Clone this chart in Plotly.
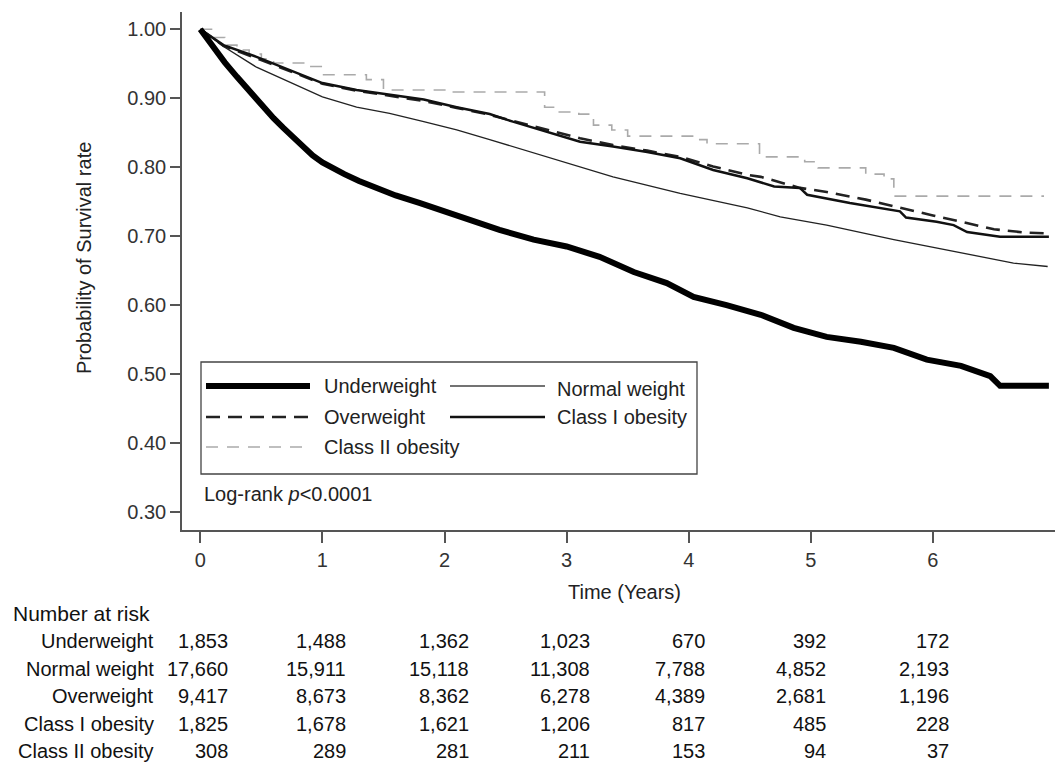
import plotly.graph_objects as go

# ---------------- data ----------------
groups = ["Underweight", "Normal weight", "Overweight", "Class I obesity", "Class II obesity"]

t_under = [0, 0.1, 0.2, 0.3, 0.46, 0.6, 0.68, 0.76, 0.84, 0.92, 1.0, 1.08, 1.18, 1.3, 1.45,
           1.6, 1.8, 2.0, 2.2, 2.45, 2.73, 3.0, 3.27, 3.55, 3.82, 4.04, 4.31, 4.59, 4.86, 5.13,
           5.41, 5.68, 5.95, 6.23, 6.47, 6.55, 6.95]
s_under = [1.0, 0.975, 0.952, 0.931, 0.898, 0.871, 0.857, 0.843, 0.830, 0.817, 0.807, 0.799,
           0.790, 0.780, 0.769, 0.759, 0.748, 0.736, 0.722, 0.709, 0.695, 0.685, 0.670, 0.648,
           0.632, 0.612, 0.600, 0.586, 0.567, 0.554, 0.547, 0.538, 0.521, 0.512, 0.497, 0.483,
           0.483]

t_normal = [0, 0.19, 0.46, 0.73, 1.0, 1.28, 1.55, 1.83, 2.1, 2.37, 2.84, 3.38, 3.93, 4.48,
            4.75, 5.13, 5.68, 6.23, 6.66, 6.94]
s_normal = [1.0, 0.975, 0.945, 0.923, 0.902, 0.887, 0.878, 0.866, 0.854, 0.840, 0.815, 0.786,
            0.762, 0.741, 0.728, 0.716, 0.695, 0.676, 0.661, 0.656]

t_over = [0, 0.19, 0.46, 0.73, 1.0, 1.28, 1.55, 1.83, 2.1, 2.37, 2.56, 2.84, 3.11, 3.38, 3.66,
          3.93, 4.2, 4.48, 4.59, 4.91, 5.13, 5.45, 5.68, 6.0, 6.23, 6.5, 6.77, 6.95]
s_over = [1.0, 0.976, 0.958, 0.940, 0.921, 0.911, 0.904, 0.896, 0.886, 0.876, 0.867, 0.854,
          0.842, 0.832, 0.824, 0.815, 0.801, 0.789, 0.786, 0.770, 0.764, 0.753, 0.743, 0.730,
          0.721, 0.710, 0.705, 0.704]

t_class1 = [0, 0.19, 0.46, 0.73, 1.0, 1.28, 1.55, 1.83, 2.1, 2.37, 2.56, 2.84, 3.11, 3.38,
            3.66, 3.93, 4.2, 4.48, 4.70, 4.91, 4.97, 5.32, 5.73, 5.78, 6.03, 6.17, 6.28, 6.55, 6.95]
s_class1 = [1.0, 0.977, 0.960, 0.941, 0.922, 0.912, 0.905, 0.898, 0.887, 0.877, 0.866, 0.851,
            0.837, 0.830, 0.822, 0.813, 0.796, 0.784, 0.772, 0.770, 0.760, 0.748, 0.736, 0.727,
            0.721, 0.716, 0.706, 0.699, 0.699]

t_class2 = [0, 0.1, 0.2, 0.3, 0.4, 0.5, 0.6, 0.86, 1.0, 1.36, 1.5, 2.05, 2.82, 2.94, 3.1, 3.22,
            3.37, 3.5, 4.07, 4.15, 4.58, 4.95, 5.06, 5.45, 5.6, 5.68, 6.91]
s_class2 = [1.0, 0.988, 0.977, 0.970, 0.964, 0.957, 0.951, 0.946, 0.934, 0.927, 0.912, 0.909,
            0.887, 0.880, 0.877, 0.861, 0.854, 0.845, 0.840, 0.834, 0.815, 0.808, 0.799, 0.790,
            0.783, 0.758, 0.758]

risk_times = [0, 1, 2, 3, 4, 5, 6]
risk_under = ["1,853", "1,488", "1,362", "1,023", "670", "392", "172"]
risk_normal = ["17,660", "15,911", "15,118", "11,308", "7,788", "4,852", "2,193"]
risk_over = ["9,417", "8,673", "8,362", "6,278", "4,389", "2,681", "1,196"]
risk_class1 = ["1,825", "1,678", "1,621", "1,206", "817", "485", "228"]
risk_class2 = ["308", "289", "281", "211", "153", "94", "37"]

x_ticks = [0, 1, 2, 3, 4, 5, 6]
y_ticks = [0.30, 0.40, 0.50, 0.60, 0.70, 0.80, 0.90, 1.00]

# ---------------- layout helpers ----------------
W, H = 1061, 762
L, R, T, B = 182, 1055, 12, 530
FONT = "Liberation Sans, Arial, sans-serif"
FS = 20


def px_x(px):
    return (px - L) / (R - L)


def px_y(py):
    return (B - py) / (B - T)


fig = go.Figure()

fig.add_trace(go.Scatter(x=t_normal, y=s_normal, mode="lines", name=groups[1],
                         line=dict(color="#222222", width=1.3)))
fig.add_trace(go.Scatter(x=t_class2, y=s_class2, mode="lines", name=groups[4], line_shape="hv",
                         line=dict(color="#aaaaaa", width=1.6, dash="12px,9px")))
fig.add_trace(go.Scatter(x=t_over, y=s_over, mode="lines", name=groups[2],
                         line=dict(color="#222222", width=2.6, dash="14px,8px")))
fig.add_trace(go.Scatter(x=t_class1, y=s_class1, mode="lines", name=groups[3],
                         line=dict(color="#111111", width=2.5)))
fig.add_trace(go.Scatter(x=t_under, y=s_under, mode="lines", name=groups[0],
                         line=dict(color="#000000", width=6)))

shapes = []
annotations = []

# legend box
shapes.append(dict(type="rect", xref="paper", yref="paper",
                   x0=px_x(201), x1=px_x(697), y0=px_y(474), y1=px_y(362),
                   line=dict(color="#444444", width=1.3), fillcolor="white", layer="below"))

legend_items = [
    # (x0, x1, y, color, width, dash, label, text_x, text_y)
    (206, 310, 386, "#000000", 6, "solid", groups[0], 322, 386),
    (450, 545, 386, "#444444", 1.3, "solid", groups[1], 555, 389),
    (206, 310, 417, "#222222", 2.6, "14px,8px", groups[2], 322, 417),
    (450, 545, 417, "#111111", 2.5, "solid", groups[3], 555, 417),
    (206, 310, 447, "#aaaaaa", 1.6, "12px,9px", groups[4], 322, 447),
]
for x0, x1, y, c, w, d, lab, tx, ty in legend_items:
    shapes.append(dict(type="line", xref="paper", yref="paper",
                       x0=px_x(x0), x1=px_x(x1), y0=px_y(y), y1=px_y(y),
                       line=dict(color=c, width=w, dash=d)))
    annotations.append(dict(text=lab, xref="paper", yref="paper", x=px_x(tx), y=px_y(ty),
                            xanchor="left", yanchor="middle", showarrow=False,
                            font=dict(family=FONT, size=FS, color="#222222")))

annotations.append(dict(text="Log-rank <i>p</i>&lt;0.0001", xref="paper", yref="paper",
                        x=px_x(202), y=px_y(494), xanchor="left", yanchor="middle",
                        showarrow=False, font=dict(family=FONT, size=FS, color="#222222")))

# axis titles
annotations.append(dict(text="Probability of Survival rate", xref="paper", yref="paper",
                        x=px_x(84), y=px_y(258), textangle=-90, xanchor="center",
                        yanchor="middle", showarrow=False,
                        font=dict(family=FONT, size=FS, color="#222222")))
annotations.append(dict(text="Time (Years)", xref="paper", yref="paper",
                        x=px_x(624), y=px_y(592), xanchor="center", yanchor="middle",
                        showarrow=False, font=dict(family=FONT, size=FS, color="#222222")))

# number at risk table
annotations.append(dict(text="Number at risk", xref="paper", yref="paper",
                        x=px_x(11), y=px_y(613), xanchor="left", yanchor="middle",
                        showarrow=False, font=dict(family=FONT, size=21, color="#111111")))
risk_rows = [risk_under, risk_normal, risk_over, risk_class1, risk_class2]
row_y = [641, 668.5, 696, 723.5, 750.5]
col_shift = [30, 26, 26, 25, 18, 17, 18]
for gi, (lab, row, ry) in enumerate(zip(groups, risk_rows, row_y)):
    annotations.append(dict(text=lab, xref="paper", yref="paper", x=px_x(156), y=px_y(ry),
                            xanchor="right", yanchor="middle", showarrow=False,
                            font=dict(family=FONT, size=FS, color="#111111")))
    for t, val, sh in zip(risk_times, row, col_shift):
        annotations.append(dict(text=val, xref="x", yref="paper", x=t, xshift=sh,
                                y=px_y(ry), xanchor="right", yanchor="middle",
                                showarrow=False,
                                font=dict(family=FONT, size=FS, color="#111111")))

fig.update_layout(
    width=W, height=H,
    margin=dict(l=L, r=W - R, t=T, b=H - B, pad=0),
    paper_bgcolor="white", plot_bgcolor="white",
    showlegend=False,
    shapes=shapes, annotations=annotations,
    font=dict(family=FONT, size=FS, color="#333333"),
    xaxis=dict(range=[-0.15, 7.0], tickvals=x_ticks, ticktext=[str(v) for v in x_ticks],
               ticks="outside", ticklen=11, tickwidth=1.5, tickcolor="#555555",
               showline=True, linecolor="#555555", linewidth=1.5, showgrid=False,
               zeroline=False, tickfont=dict(family=FONT, size=FS, color="#333333")),
    yaxis=dict(range=[0.274, 1.025], tickvals=y_ticks,
               ticktext=["%.2f" % v for v in y_ticks],
               ticks="outside", ticklen=10, tickwidth=1.5, tickcolor="#555555",
               showline=True, linecolor="#555555", linewidth=1.5, showgrid=False,
               zeroline=False, tickfont=dict(family=FONT, size=FS, color="#333333")),
)

fig.write_html("out.html", config={"displayModeBar": False},
               post_script="document.body.style.margin='0';document.body.style.overflow='hidden';")
